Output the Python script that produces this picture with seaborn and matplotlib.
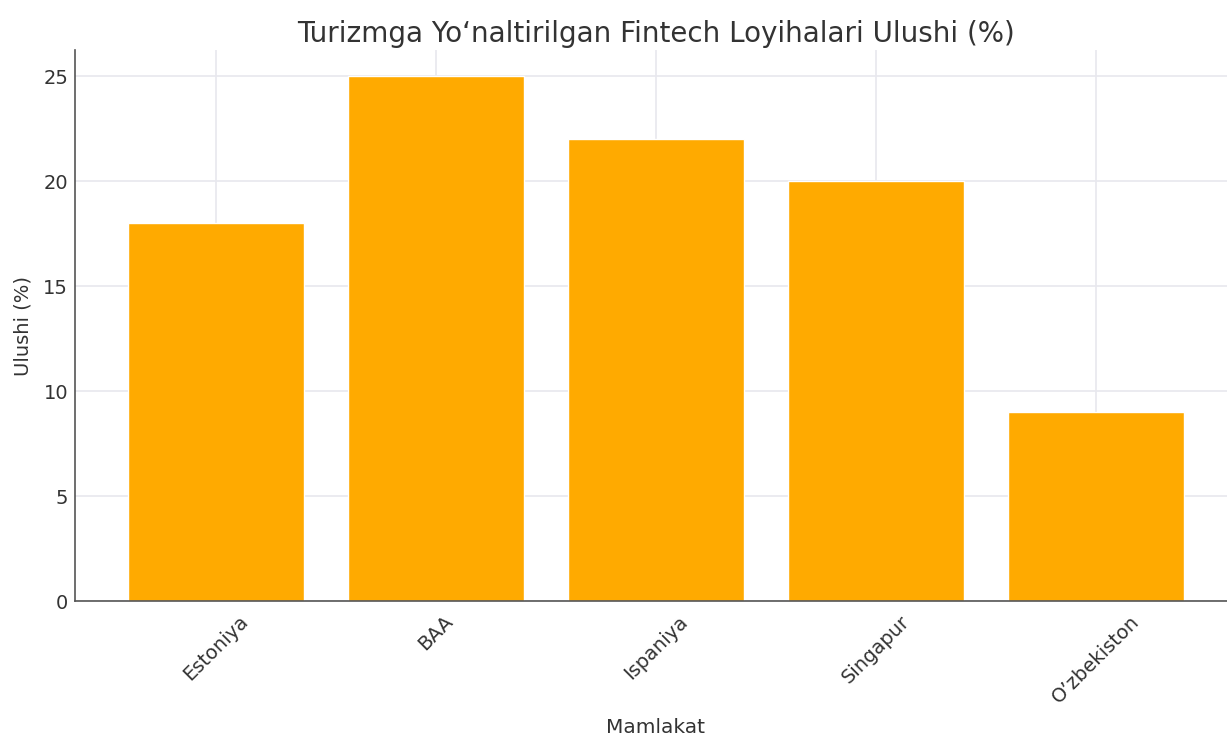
import matplotlib
matplotlib.use("Agg")
import matplotlib.pyplot as plt
import seaborn as sns
import pandas as pd

mamlakat = ["Estoniya", "BAA", "Ispaniya", "Singapur", "O\u2019zbekiston"]
ulushi = [18, 25, 22, 20, 9]

sns.set_style("whitegrid")
plt.rcParams['font.family'] = ['DejaVu Sans']

df = pd.DataFrame({"Mamlakat": mamlakat, "Ulushi": ulushi})

fig = plt.figure(figsize=(12.27, 7.36), dpi=100)
ax = fig.add_axes([0.0611, 0.1834, 0.947, 0.7486])

sns.barplot(data=df, x="Mamlakat", y="Ulushi", color="#FFAA00", saturation=1,
            width=0.8, ax=ax, zorder=2)
ax.set_xlim(-0.64, 4.64)
ax.set_ylim(0, 26.25)

ax.grid(True, color="#E8E8EE", linewidth=1.2)
ax.set_axisbelow(True)
for s in ["top", "right"]:
    ax.spines[s].set_visible(False)
for s in ["left", "bottom"]:
    ax.spines[s].set_color("#555555")
    ax.spines[s].set_linewidth(1.2)

ax.tick_params(axis="both", direction="in", length=5, width=1, color="#555555",
               labelsize=14, labelcolor="#333333", pad=5)
ax.tick_params(axis="x", pad=8)
plt.setp(ax.get_xticklabels(), rotation=45)

ax.set_title("Turizmga Yo\u2018naltirilgan Fintech Loyihalari Ulushi (%)",
             fontsize=20, color="#333333", pad=6)
ax.set_xlabel("Mamlakat", fontsize=14.5, color="#333333", labelpad=8)
ax.set_ylabel("Ulushi (%)", fontsize=14, color="#333333", labelpad=8)

fig.savefig("out.png", dpi=100)
